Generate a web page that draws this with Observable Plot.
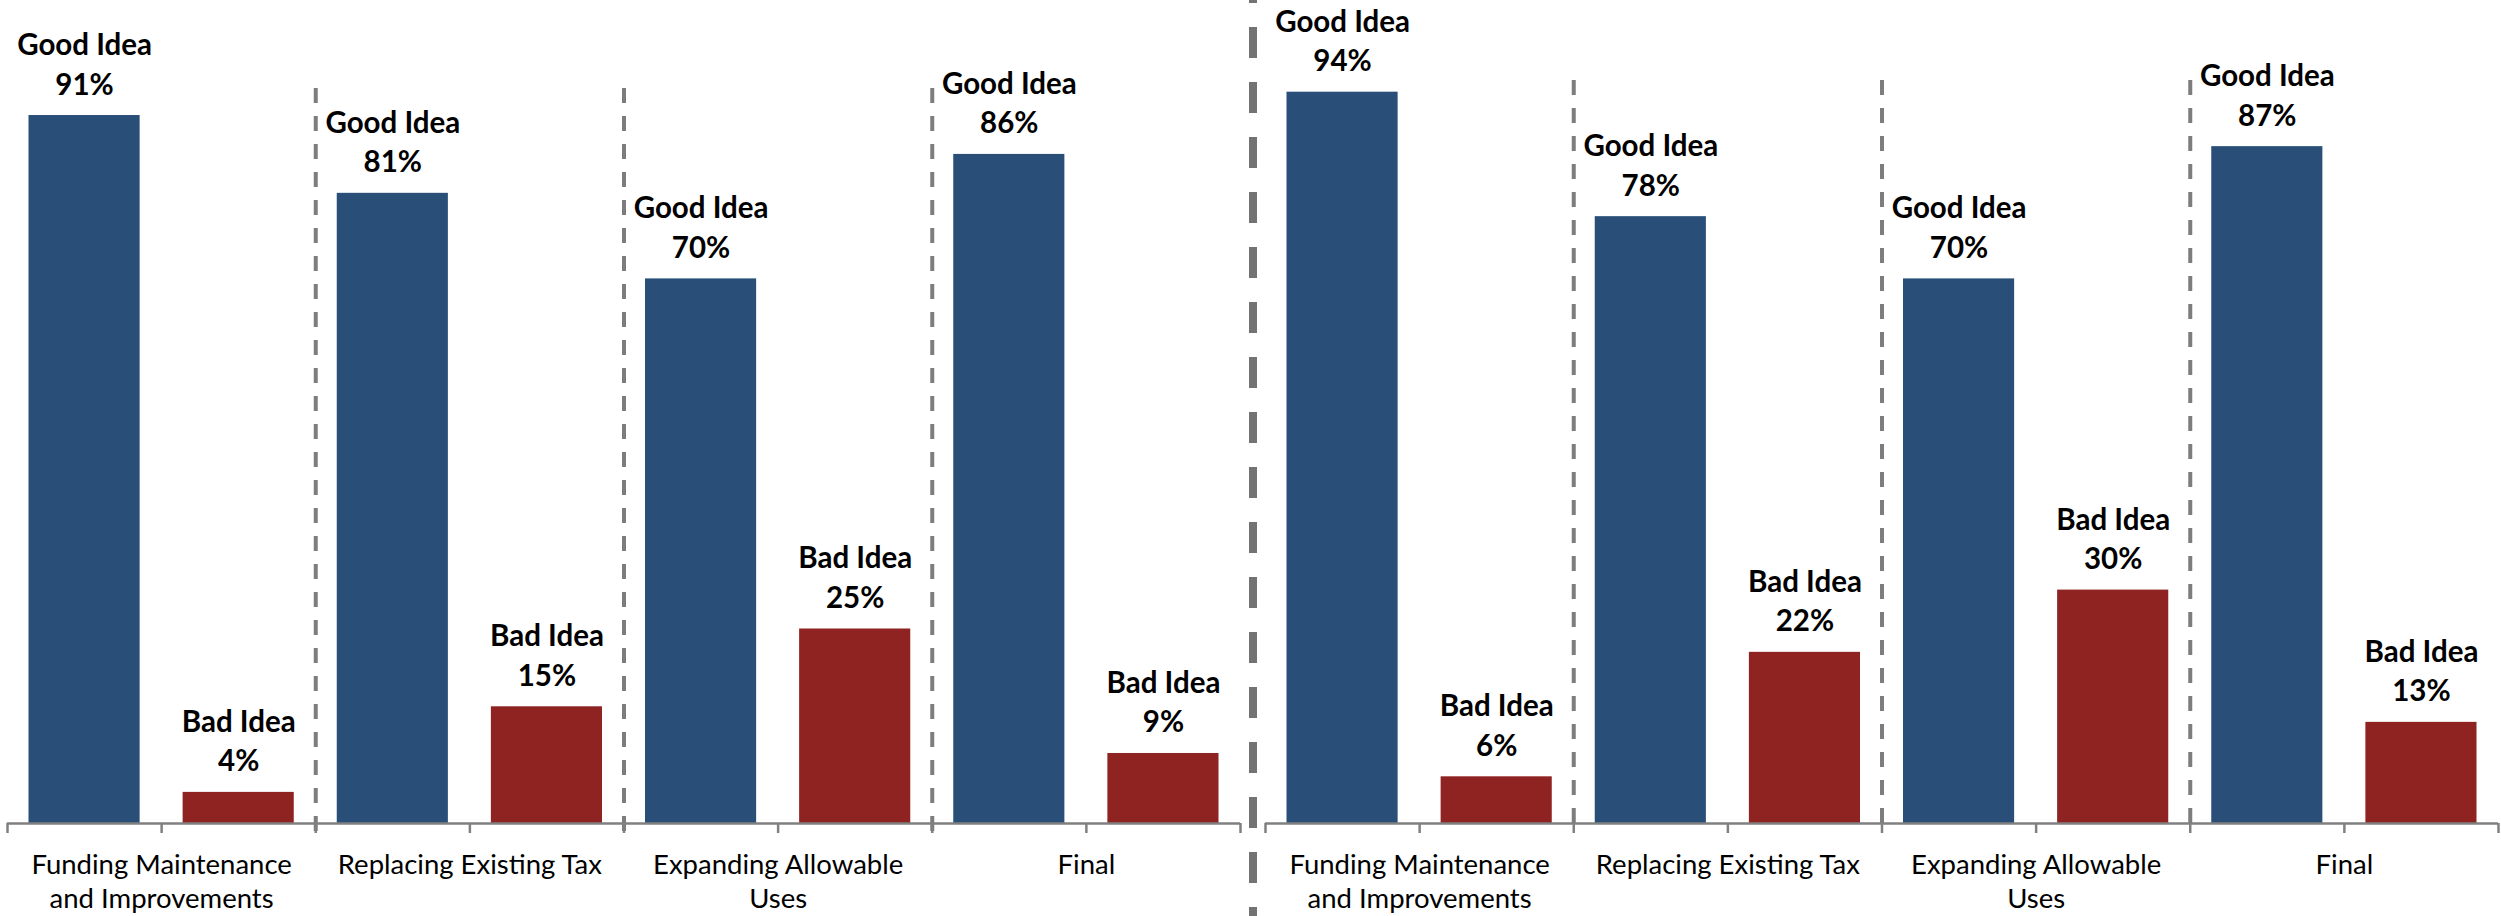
<!DOCTYPE html>
<html>
<head>
<meta charset="utf-8">
<script src="https://cdn.jsdelivr.net/npm/d3@7"></script>
<script src="https://cdn.jsdelivr.net/npm/@observablehq/plot@0.6"></script>
<style>
  html, body { margin: 0; padding: 0; background: #ffffff; }
  #chart svg { display: block; }
</style>
</head>
<body>
<div id="chart"></div>
<script>
// ---- data ----
const panels = ["Panel 1", "Panel 2"];
const categories = ["Funding Maintenance\nand Improvements", "Replacing Existing Tax", "Expanding Allowable\nUses", "Final"];
const responses = ["Good Idea", "Bad Idea"];
const goodPanel1 = [91, 81, 70, 86];
const badPanel1 = [4, 15, 25, 9];
const goodPanel2 = [94, 78, 70, 87];
const badPanel2 = [6, 22, 30, 13];
const colors = ["#294f78", "#8e2322"];

// ---- derived tables ----
const series = [[goodPanel1, badPanel1], [goodPanel2, badPanel2]];
const rows = [];
panels.forEach((p, pi) => categories.forEach((c, ci) => responses.forEach((r, ri) => {
  rows.push({panel: p, category: c, response: r, slot: ci * responses.length + ri, value: series[pi][ri][ci]});
})));
const nSlots = categories.length * responses.length;
const slotEdges = d3.range(nSlots + 1);
const groupEdges = d3.range(1, categories.length).map(i => i * responses.length);
const catRows = panels.flatMap(p => categories.map((c, ci) => ({panel: p, category: c, center: ci * responses.length + responses.length / 2})));
const dividers1 = groupEdges.map(x => ({panel: panels[0], x}));
const dividers2 = groupEdges.map(x => ({panel: panels[1], x}));
const centerLine = [{panel: panels[0], x: nSlots}];

const gray = "#7d7d7d";

const chart = Plot.plot({
  width: 2501,
  height: 916,
  marginTop: 45,
  marginBottom: 93,
  marginLeft: 7,
  marginRight: 3,
  style: {fontFamily: "Lato, 'Open Sans', sans-serif", background: "#ffffff", color: "#000"},
  fx: {domain: panels, axis: null, paddingInner: 25 / 1258, paddingOuter: 0, round: false},
  x: {domain: [0, nSlots], axis: null},
  y: {domain: [0, 100], axis: null},
  color: {domain: responses, range: colors},
  marks: [
    Plot.ruleX(dividers1, {fx: "panel", x: "x", stroke: gray, strokeWidth: 4, strokeDasharray: "15,13", insetTop: 43, insetBottom: -10}),
    Plot.ruleX(dividers2, {fx: "panel", x: "x", stroke: gray, strokeWidth: 4, strokeDasharray: "15,13", insetTop: 35, insetBottom: -10}),
    Plot.rectY(rows, {fx: "panel", x1: "slot", x2: d => d.slot + 1, y1: 0, y2: "value", fill: "response", insetLeft: 21.5, insetRight: 21.5}),
    Plot.ruleY([0], {stroke: "#808080", strokeWidth: 2.5}),
    Plot.ruleX(slotEdges, {x: d => d, y1: 0, y2: 0, insetBottom: -10, stroke: "#808080", strokeWidth: 2.5}),
    Plot.text(rows, {
      fx: "panel", x: d => d.slot + 0.5, y: "value",
      text: d => `${d.response}\n${d.value}%`,
      lineAnchor: "bottom", dy: -21, fontSize: 29.5, fontWeight: "bold", lineHeight: 1.34, fill: "#000"
    }),
    Plot.text(catRows, {
      fx: "panel", x: "center", y: d => 0,
      text: "category", lineAnchor: "top", dy: 25.5, fontSize: 27.5, lineHeight: 1.26, fill: "#000"
    }),
    Plot.ruleX(centerLine, {fx: "panel", x: "x", dx: 12.5, stroke: "#737373", strokeWidth: 8, strokeDasharray: "31,24", strokeDashoffset: 28, insetTop: -45, insetBottom: -93})
  ]
});
document.getElementById("chart").appendChild(chart);
</script>
</body>
</html>
